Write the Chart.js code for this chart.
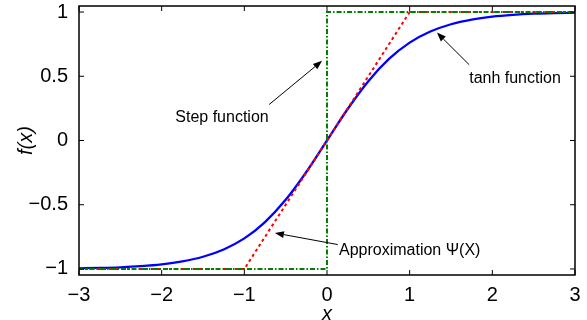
<!DOCTYPE html>
<html>
<head>
<meta charset="utf-8">
<script src="https://cdn.jsdelivr.net/npm/chart.js@4.4.0/dist/chart.umd.min.js"></script>
<style>
  html, body { margin: 0; padding: 0; background: #fff; }
  #wrap { width: 587px; height: 320px; }
</style>
</head>
<body>
<div id="wrap"><canvas id="fig"></canvas></div>
<script>
// values
const tanhX = [-3, -2.75, -2.5, -2.25, -2, -1.75, -1.5, -1.25, -1, -0.75, -0.5, -0.25, 0,
               0.25, 0.5, 0.75, 1, 1.25, 1.5, 1.75, 2, 2.25, 2.5, 2.75, 3];
const tanhY = [-0.995, -0.992, -0.987, -0.978, -0.964, -0.941, -0.905, -0.848, -0.762, -0.635, -0.462, -0.245, 0,
               0.245, 0.462, 0.635, 0.762, 0.848, 0.905, 0.941, 0.964, 0.978, 0.987, 0.992, 0.995];
const approxX = [-3, -1, 1, 3];
const approxY = [-1, -1, 1, 1];
const stepX = [-3, 0, 0, 3];
const stepY = [-1, -1, 1, 1];
const xTicks = [-3, -2, -1, 0, 1, 2, 3];
const yTicks = [-1, -0.5, 0, 0.5, 1];

const FONT = '"Liberation Sans", Arial, sans-serif';

// annotation texts with arrows (data coordinates)
const notes = [
    { text: 'Step function', at: [-1.27, 0.175], align: 'center', from: [-0.70, 0.28], to: [-0.06, 0.62] },
    { text: 'tanh function', at: [1.72, 0.485], align: 'left', from: [1.72, 0.59], to: [1.33, 0.84] },
    { text: 'Approximation \u03A8(X)', at: [0.145, -0.86], align: 'left', from: [0.13, -0.81], to: [-0.63, -0.72] }
];

function pairs(xs, ys) {
    return xs.map((x, i) => ({ x: x, y: ys[i] }));
}

function fmt(v) {
    return String(v).replace('-', '\u2212');
}

// box, inward ticks and annotations like the original figure
const framePlugin = {
    id: 'frame',
    afterDatasetsDraw(chart) {
        const { ctx, chartArea: a, scales } = chart;
        const sx = scales.x, sy = scales.y;
        const seg = (x1, y1, x2, y2) => {
            ctx.beginPath();
            ctx.moveTo(x1, y1);
            ctx.lineTo(x2, y2);
            ctx.stroke();
        };
        ctx.save();
        ctx.strokeStyle = '#000';
        ctx.lineWidth = 1;
        sx.ticks.forEach(t => {
            const px = sx.getPixelForValue(t.value);
            seg(px, a.bottom, px, a.bottom - 5);
            seg(px, a.top, px, a.top + 5);
        });
        sy.ticks.forEach(t => {
            const py = sy.getPixelForValue(t.value);
            seg(a.left, py, a.left + 5, py);
            seg(a.right, py, a.right - 5, py);
        });
        ctx.lineWidth = 1.5;
        ctx.strokeRect(a.left, a.top, a.right - a.left, a.bottom - a.top);

        // annotations
        ctx.lineWidth = 1;
        ctx.fillStyle = '#000';
        ctx.font = '16px ' + FONT;
        ctx.textBaseline = 'middle';
        notes.forEach(n => {
            ctx.textAlign = n.align;
            ctx.fillText(n.text, sx.getPixelForValue(n.at[0]), sy.getPixelForValue(n.at[1]));
            const x1 = sx.getPixelForValue(n.from[0]), y1 = sy.getPixelForValue(n.from[1]);
            const x2 = sx.getPixelForValue(n.to[0]), y2 = sy.getPixelForValue(n.to[1]);
            const ang = Math.atan2(y2 - y1, x2 - x1);
            const len = 9, half = 3.5;
            const bx = x2 - len * Math.cos(ang), by = y2 - len * Math.sin(ang);
            seg(x1, y1, bx, by);
            ctx.beginPath();
            ctx.moveTo(x2, y2);
            ctx.lineTo(bx + half * Math.sin(ang), by - half * Math.cos(ang));
            ctx.lineTo(bx - half * Math.sin(ang), by + half * Math.cos(ang));
            ctx.closePath();
            ctx.fill();
        });
        ctx.restore();
    }
};

new Chart(document.getElementById('fig'), {
    type: 'line',
    data: {
        datasets: [
            {
                label: 'Step function',
                data: pairs(stepX, stepY),
                borderColor: '#008000',
                borderWidth: 2,
                borderDash: [5, 2, 1.5, 2],
                pointRadius: 0,
                tension: 0,
                fill: false
            },
            {
                label: 'Approximation',
                data: pairs(approxX, approxY),
                borderColor: '#ff0000',
                borderWidth: 2,
                borderDash: [3, 3],
                pointRadius: 0,
                tension: 0,
                fill: false
            },
            {
                label: 'tanh',
                data: pairs(tanhX, tanhY),
                borderColor: '#0000ff',
                borderWidth: 2.3,
                pointRadius: 0,
                cubicInterpolationMode: 'monotone',
                fill: false
            }
        ]
    },
    options: {
        responsive: true,
        maintainAspectRatio: false,
        animation: false,
        layout: { padding: { top: 6, right: 12, left: 0, bottom: 0 } },
        plugins: {
            legend: { display: false },
            tooltip: { enabled: false }
        },
        scales: {
            x: {
                type: 'linear',
                min: -3,
                max: 3,
                afterBuildTicks: s => { s.ticks = xTicks.map(v => ({ value: v })); },
                afterFit: s => { s.height = 45; s.paddingLeft = 0; s.paddingRight = 0; },
                grid: { display: false },
                border: { display: false },
                ticks: {
                    callback: v => fmt(v),
                    color: '#000',
                    font: { family: FONT, size: 20 },
                    padding: 0,
                    maxRotation: 0,
                    autoSkip: false
                },
                title: {
                    display: true,
                    text: 'x',
                    color: '#000',
                    font: { family: FONT, size: 20, style: 'italic', lineHeight: 0.6 },
                    padding: 0
                }
            },
            y: {
                type: 'linear',
                min: -1.047,
                max: 1.047,
                afterBuildTicks: s => { s.ticks = yTicks.map(v => ({ value: v })); },
                afterFit: s => { s.width = 79; s.paddingTop = 0; s.paddingBottom = 0; },
                grid: { display: false },
                border: { display: false },
                ticks: {
                    callback: v => fmt(v),
                    color: '#000',
                    font: { family: FONT, size: 20 },
                    padding: 3,
                    autoSkip: false
                },
                title: {
                    display: true,
                    text: 'f(x)',
                    color: '#000',
                    font: { family: FONT, size: 20, style: 'italic', lineHeight: 0.8 },
                    padding: { top: 18, bottom: 0 }
                }
            }
        }
    },
    plugins: [framePlugin]
});
</script>
</body>
</html>
